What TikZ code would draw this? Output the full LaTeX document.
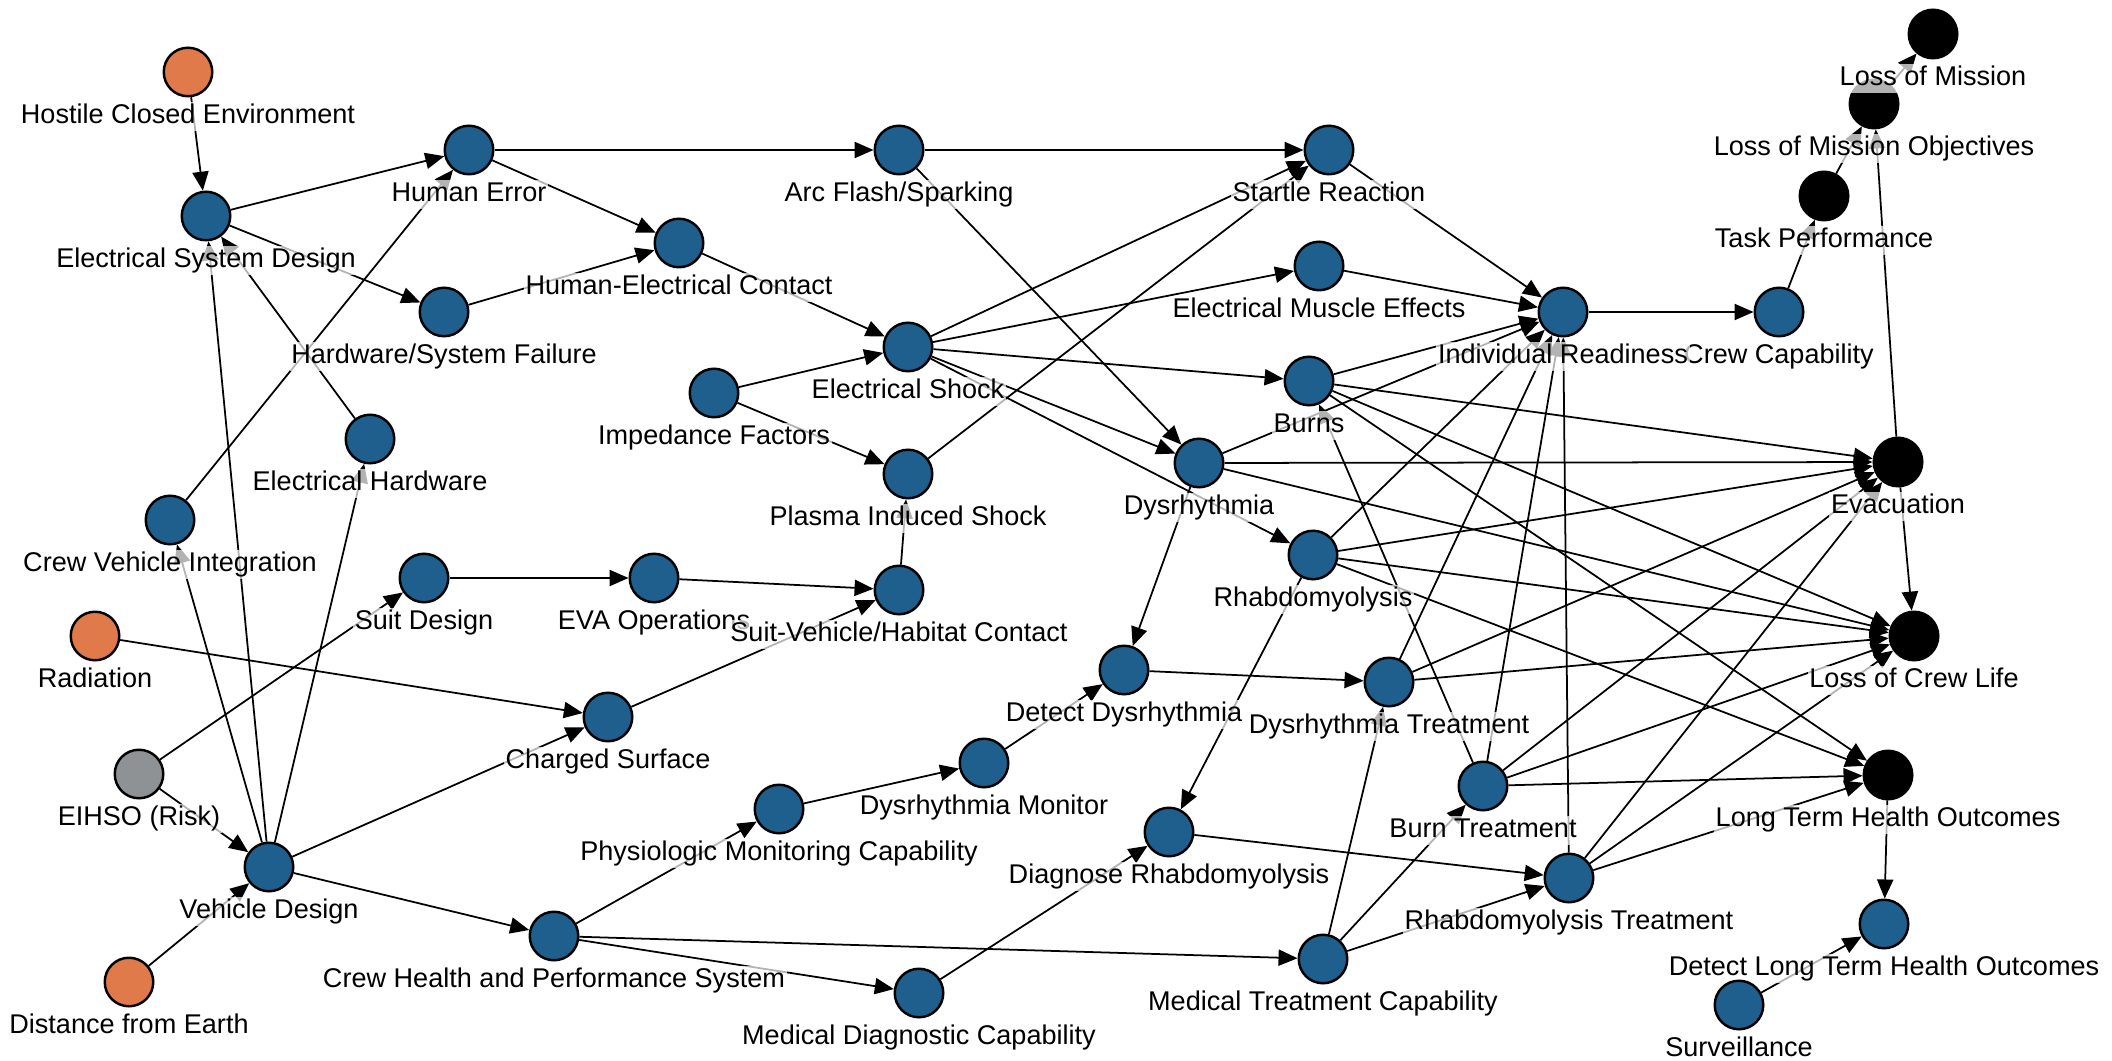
\documentclass[tikz,border=0pt]{standalone}
\usepackage{fontspec}
\setmainfont{Liberation Sans}
\usetikzlibrary{arrows.meta,backgrounds}
\definecolor{factorblue}{HTML}{1F5F8E}
\definecolor{hazard}{HTML}{E07A4B}
\definecolor{riskgrey}{HTML}{8F9295}
\tikzset{
  factor/.style={circle, draw=black, line width=0.7pt, fill=factorblue, minimum size=4.85mm, inner sep=0pt},
  hazardnode/.style={factor, fill=hazard},
  risknode/.style={factor, fill=riskgrey},
  outcome/.style={factor, fill=black},
  lbl/.style={font=\fontsize{7.7}{8}\selectfont, inner sep=0.5pt, text height=5.6pt, text depth=1.6pt, fill=white, fill opacity=0.7, text opacity=1},
  every label/.style={lbl},
  arr/.style={-{Triangle[length=5.4pt,width=4.6pt]}, line width=0.5pt, black}}

\begin{document}
\begin{tikzpicture}[x=0.01cm, y=-0.01cm, label distance=1.1pt]
\useasboundingbox (0,0) rectangle (2112,1061);
% hazards and design
\node[hazardnode, label=below:Hostile Closed Environment] (hce) at (188,72) {};
\node[factor, label=below:Electrical System Design] (esd) at (206,216) {};
\node[factor, label=below:Human Error] (he) at (469,150) {};
\node[factor, label=below:Hardware/System Failure] (hsf) at (444,312) {};
\node[factor, label=below:Electrical Hardware] (eh) at (370,439) {};
\node[factor, label=below:Crew Vehicle Integration] (cvi) at (170,520) {};
\node[hazardnode, label=below:Radiation] (rad) at (95,636) {};
\node[risknode, label=below:EIHSO (Risk)] (eihso) at (139,774) {};
\node[factor, label=below:Vehicle Design] (vd) at (269,867) {};
\node[hazardnode, label=below:Distance from Earth] (dfe) at (129,982) {};
\node[factor, label=below:Suit Design] (suit) at (424,578) {};
\node[factor, label=below:EVA Operations] (eva) at (654,578) {};
\node[factor, label=below:Charged Surface] (cs) at (608,717) {};
\node[factor, label=below:Crew Health and Performance System] (chps) at (554,936) {};
% shock path
\node[factor, label=below:Arc Flash/Sparking] (afs) at (899,150) {};
\node[factor, label=below:Human-Electrical Contact] (hec) at (679,243) {};
\node[factor, label=below:Electrical Shock] (es) at (908,347) {};
\node[factor, label=below:Impedance Factors] (imp) at (714,393) {};
\node[factor, label=below:Plasma Induced Shock] (pis) at (908,474) {};
\node[factor, label=below:Suit-Vehicle/Habitat Contact] (svhc) at (899,590) {};
\node[factor, label=below:Physiologic Monitoring Capability] (pmc) at (779,809) {};
\node[factor, label=below:Dysrhythmia Monitor] (dm) at (984,763) {};
\node[factor, label=below:Medical Diagnostic Capability] (mdc) at (919,993) {};
% effects and treatment
\node[factor, label=below:Startle Reaction] (sr) at (1329,150) {};
\node[factor, label=below:Electrical Muscle Effects] (eme) at (1319,266) {};
\node[factor, label=below:Burns] (burns) at (1309,381) {};
\node[factor, label=below:Dysrhythmia] (dys) at (1199,463) {};
\node[factor, label=below:Rhabdomyolysis] (rhab) at (1313,555) {};
\node[factor, label=below:Detect Dysrhythmia] (dd) at (1124,670) {};
\node[factor, label=below:Dysrhythmia Treatment] (dt) at (1389,682) {};
\node[factor, label=below:Diagnose Rhabdomyolysis] (dr) at (1169,832) {};
\node[factor, label=below:Burn Treatment] (bt) at (1483,786) {};
\node[factor, label=below:Rhabdomyolysis Treatment] (rt) at (1569,878) {};
\node[factor, label=below:Medical Treatment Capability] (mtc) at (1323,959) {};
\node[factor, label=below:Crew Capability] (cc) at (1779,312) {};
\node[factor, label=below:Individual Readiness] (ir) at (1563,312) {};
% outcomes
\node[outcome, label=below:Task Performance] (tp) at (1824,196) {};
\node[outcome, label=below:Loss of Mission Objectives] (lmo) at (1874,104) {};
\node[outcome, label=below:Loss of Mission] (lom) at (1933,34) {};
\node[outcome, label=below:Evacuation] (evac) at (1898,462) {};
\node[outcome, label=below:Loss of Crew Life] (lcl) at (1914,636) {};
\node[outcome, label=below:Long Term Health Outcomes] (ltho) at (1888,775) {};
\node[factor, label=below:Detect Long Term Health Outcomes] (dltho) at (1884,924) {};
\node[factor, label=below:Surveillance] (surv) at (1739,1005) {};

\begin{pgfonlayer}{background}
\draw[arr] (hce) -- (esd); \draw[arr] (esd) -- (he); \draw[arr] (esd) -- (hsf); \draw[arr] (eh) -- (esd);
\draw[arr] (vd) -- (esd); \draw[arr] (vd) -- (cvi); \draw[arr] (vd) -- (eh); \draw[arr] (cvi) -- (he);
\draw[arr] (he) -- (afs); \draw[arr] (he) -- (hec); \draw[arr] (hsf) -- (hec); \draw[arr] (hec) -- (es);
\draw[arr] (imp) -- (es); \draw[arr] (imp) -- (pis); \draw[arr] (afs) -- (sr); \draw[arr] (afs) -- (dys);
\draw[arr] (es) -- (sr); \draw[arr] (pis) -- (sr); \draw[arr] (es) -- (eme); \draw[arr] (es) -- (burns);
\draw[arr] (es) -- (dys); \draw[arr] (es) -- (rhab); \draw[arr] (svhc) -- (pis);
\draw[arr] (suit) -- (eva); \draw[arr] (eva) -- (svhc); \draw[arr] (cs) -- (svhc); \draw[arr] (rad) -- (cs);
\draw[arr] (vd) -- (cs); \draw[arr] (eihso) -- (suit); \draw[arr] (eihso) -- (vd); \draw[arr] (dfe) -- (vd);
\draw[arr] (vd) -- (chps); \draw[arr] (chps) -- (pmc); \draw[arr] (chps) -- (mtc); \draw[arr] (chps) -- (mdc);
\draw[arr] (pmc) -- (dm); \draw[arr] (dm) -- (dd); \draw[arr] (mdc) -- (dr); \draw[arr] (dys) -- (dd);
\draw[arr] (rhab) -- (dr); \draw[arr] (dd) -- (dt); \draw[arr] (dr) -- (rt);
\draw[arr] (mtc) -- (dt); \draw[arr] (mtc) -- (bt); \draw[arr] (mtc) -- (rt); \draw[arr] (bt) -- (burns);
\draw[arr] (sr) -- (ir); \draw[arr] (eme) -- (ir); \draw[arr] (burns) -- (ir); \draw[arr] (dys) -- (ir);
\draw[arr] (rhab) -- (ir); \draw[arr] (dt) -- (ir); \draw[arr] (bt) -- (ir); \draw[arr] (rt) -- (ir);
\draw[arr] (ir) -- (cc); \draw[arr] (cc) -- (tp); \draw[arr] (tp) -- (lmo); \draw[arr] (lmo) -- (lom);
\draw[arr] (evac) -- (lmo); \draw[arr] (evac) -- (lcl);
\draw[arr] (burns) -- (evac); \draw[arr] (dys) -- (evac); \draw[arr] (rhab) -- (evac);
\draw[arr] (dt) -- (evac); \draw[arr] (bt) -- (evac); \draw[arr] (rt) -- (evac);
\draw[arr] (burns) -- (lcl); \draw[arr] (dys) -- (lcl); \draw[arr] (rhab) -- (lcl);
\draw[arr] (dt) -- (lcl); \draw[arr] (bt) -- (lcl); \draw[arr] (rt) -- (lcl);
\draw[arr] (burns) -- (ltho); \draw[arr] (rhab) -- (ltho); \draw[arr] (bt) -- (ltho); \draw[arr] (rt) -- (ltho);
\draw[arr] (ltho) -- (dltho); \draw[arr] (surv) -- (dltho);
\end{pgfonlayer}
\end{tikzpicture}
\end{document}
